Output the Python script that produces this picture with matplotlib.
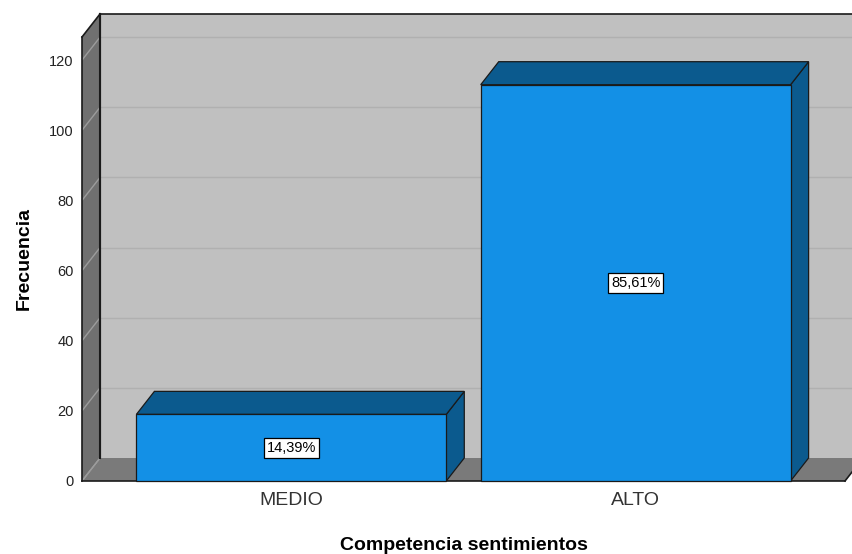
import numpy as np
import matplotlib
matplotlib.use('Agg')
import matplotlib.pyplot as plt
from matplotlib.patches import Polygon

plt.rcParams['font.family'] = ['Liberation Sans', 'DejaVu Sans']

categories = ["MEDIO", "ALTO"]
counts = [19, 113]
pct_labels = ["14,39%", "85,61%"]
yticks = [0, 20, 40, 60, 80, 100, 120]

# colours
front_col = '#1390e6'
dark_col = '#0b5a8e'
wall_col = '#c0c0c0'
side_col = '#707070'
floor_col = '#7a7a7a'
edge = '#1a1a1a'

fig = plt.figure(figsize=(8.52, 5.54), dpi=100)
ax = fig.add_axes([82/852, 73/554, 763/852, 444/554])
xmin, xmax = -0.608, 1.608
ymin, ymax = 0, 126.6
ax.set_xlim(xmin, xmax)
ax.set_ylim(ymin, ymax)

# depth offset in data units (18 px right, 23 px up)
dx = 18 / (763 / (xmax - xmin))
dy = 23 / (444 / (ymax - ymin))

def poly(pts, fc, ec=edge, lw=0.9, z=1):
    p = Polygon(pts, closed=True, facecolor=fc, edgecolor=ec, linewidth=lw,
                zorder=z, clip_on=False, joinstyle='miter')
    ax.add_patch(p)

# back wall
top_back = ymax + dy
right_back = xmax + dx + 0.2
poly([(xmin + dx, dy), (right_back, dy), (right_back, top_back), (xmin + dx, top_back)],
     wall_col, ec='none', z=1)
for v in yticks[1:]:
    ax.plot([xmin + dx, right_back], [v + dy, v + dy], color='#b0b0b0', lw=1.0,
            zorder=2, clip_on=False, solid_capstyle='butt')
ax.plot([xmin + dx, right_back], [top_back, top_back], color=edge, lw=1.2, zorder=3, clip_on=False)
ax.plot([xmin + dx, xmin + dx], [dy, top_back], color=edge, lw=1.5, zorder=3, clip_on=False)

# left wall
poly([(xmin, 0), (xmin + dx, dy), (xmin + dx, top_back), (xmin, ymax)], side_col, ec='none', z=3)
for v in yticks:
    ax.plot([xmin, xmin + dx], [v, v + dy], color='#9c9c9c', lw=1.0, zorder=4,
            clip_on=False, solid_capstyle='butt')
ax.plot([xmin, xmin + dx], [ymax, top_back], color=edge, lw=1.2, zorder=5, clip_on=False)
ax.plot([xmin + dx, xmin + dx], [dy, top_back], color=edge, lw=1.5, zorder=5, clip_on=False)
ax.plot([xmin, xmin], [0, ymax], color=edge, lw=1.2, zorder=5, clip_on=False)

# floor
poly([(xmin, 0), (xmax, 0), (xmax + dx, dy), (xmin + dx, dy)], floor_col, ec='none', z=3)
ax.plot([xmin + dx, xmin], [dy, 0], color='#9c9c9c', lw=1.0, zorder=4, clip_on=False)
ax.plot([xmax, xmax + dx], [0, dy], color=edge, lw=1.2, zorder=5, clip_on=False)
ax.plot([xmin, xmax], [0, 0], color=edge, lw=1.2, zorder=5, clip_on=False)

# bars
w = 0.9
for i, (c, lab) in enumerate(zip(counts, pct_labels)):
    x0, x1 = i - w / 2, i + w / 2
    poly([(x1, 0), (x1 + dx, dy), (x1 + dx, c + dy), (x1, c)], dark_col, z=6)
    poly([(x0, c), (x1, c), (x1 + dx, c + dy), (x0 + dx, c + dy)], dark_col, z=6)
    poly([(x0, 0), (x1, 0), (x1, c), (x0, c)], front_col, z=7)
    ax.text(i, c / 2, lab, ha='center', va='center', fontsize=10.5, color='black', zorder=8,
            bbox=dict(boxstyle='square,pad=0.2', facecolor='white', edgecolor='black', linewidth=0.9))

ax.set_xticks(range(len(categories)))
ax.set_xticklabels(categories, fontsize=14, color='#333333')
ax.set_yticks(yticks)
ax.set_yticklabels([str(t) for t in yticks], fontsize=10.5, color='#222222')
ax.tick_params(axis='both', length=0)
ax.tick_params(axis='y', pad=6)
ax.tick_params(axis='x', pad=8)
for s in ax.spines.values():
    s.set_visible(False)
ax.patch.set_visible(False)

ax.set_xlabel("Competencia sentimientos", fontsize=14, fontweight='bold', labelpad=20)
ax.set_ylabel("Frecuencia", fontsize=14, fontweight='bold', labelpad=12)

fig.savefig('out.png', dpi=100)
